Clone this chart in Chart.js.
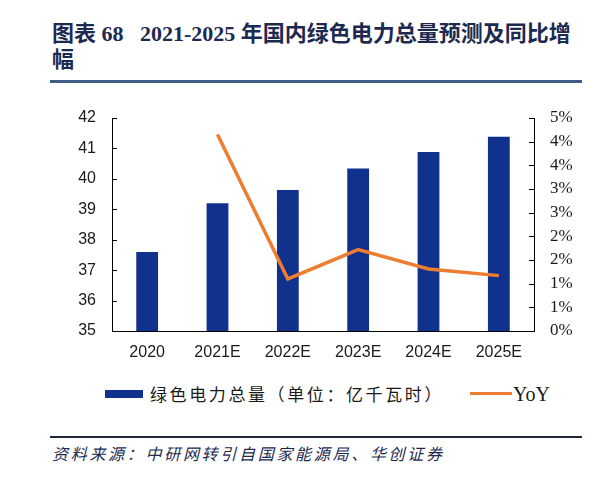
<!DOCTYPE html>
<html>
<head>
<meta charset="utf-8">
<script src="https://cdn.jsdelivr.net/npm/chart.js@4.4.1/dist/chart.umd.min.js"></script>
<style>
  html, body { margin: 0; padding: 0; background: #fff; }
  #page { position: relative; width: 600px; height: 482px; overflow: hidden; background: #fff; }
  .title {
    position: absolute; left: 52px; top: 21px; width: 545px;
    font-family: "Liberation Serif", "Noto Sans CJK SC", serif;
    font-weight: bold; font-size: 22px; line-height: 26px; color: #1d2a50;
    letter-spacing: 0px; white-space: nowrap;
  }
  .rule-top { position: absolute; left: 50px; top: 80px; width: 532px; height: 3px; background: #3d5c86; }
  .rule-bot { position: absolute; left: 50px; top: 436px; width: 532px; height: 2px; background: #1e2a3a; }
  #chartBox { position: absolute; left: 0; top: 90px; width: 600px; height: 280px; }
  .legend { position: absolute; top: 382px; height: 24px; font-size: 17px; color: #1a1a1a; }
  .leg-box { position: absolute; left: 105px; top: 390px; width: 38px; height: 8px; background: #10318c; }
  .leg-text1 { left: 150px; font-family: "Noto Sans CJK SC", sans-serif; letter-spacing: 2.6px; line-height: 24px; }
  .leg-line { position: absolute; left: 470px; top: 392px; width: 42px; height: 3px; background: #ed7d31; }
  .leg-text2 { left: 513px; font-family: "Liberation Serif", serif; font-size: 20px; line-height: 24px; }
  .source {
    position: absolute; left: 52px; top: 441px;
    font-family: "Noto Sans CJK SC", sans-serif; font-style: italic;
    font-size: 16px; letter-spacing: 2.7px; color: #1d2a50; white-space: nowrap;
  }
</style>
</head>
<body>
<div id="page">
  <div class="title">图表 68&nbsp;&nbsp;&nbsp;2021-2025 年国内绿色电力总量预测及同比增<br>幅</div>
  <div class="rule-top"></div>
  <div id="chartBox"><canvas id="chart"></canvas></div>
  <div class="leg-box"></div>
  <div class="legend leg-text1">绿色电力总量（单位：亿千瓦时）</div>
  <div class="leg-line"></div>
  <div class="legend leg-text2">YoY</div>
  <div class="rule-bot"></div>
  <div class="source">资料来源：中研网转引自国家能源局、华创证券</div>
</div>
<script>
const categories = ['2020', '2021E', '2022E', '2023E', '2024E', '2025E'];
const greenPower = [37.6, 39.2, 39.63, 40.34, 40.88, 41.38];   // 亿千瓦时
const yoy = [null, 4.15, 1.1, 1.72, 1.31, 1.17];               // %
const leftTicks = [35, 36, 37, 38, 39, 40, 41, 42];
const rightTickLabels = ['0%', '1%', '1%', '2%', '2%', '3%', '3%', '4%', '4%', '5%'];

// inward tick marks on both value axes
const innerTicks = {
    id: 'innerTicks',
    afterDraw(chart) {
        const ctx = chart.ctx;
        ctx.save();
        ctx.strokeStyle = '#000';
        ctx.lineWidth = 1;
        ['y', 'y1'].forEach(id => {
            const s = chart.scales[id];
            s.ticks.forEach((t, i) => {
                const py = Math.round(s.getPixelForTick(i)) + 0.5;
                ctx.beginPath();
                if (s.position === 'left') {
                    ctx.moveTo(s.right, py);
                    ctx.lineTo(s.right + 5, py);
                } else {
                    ctx.moveTo(s.left, py);
                    ctx.lineTo(s.left - 5, py);
                }
                ctx.stroke();
            });
        });
        ctx.restore();
    }
};

new Chart(document.getElementById('chart'), {
    type: 'bar',
    data: {
        labels: categories,
        datasets: [
            {
                type: 'line',
                label: 'YoY',
                data: yoy,
                yAxisID: 'y1',
                borderColor: '#ed7d31',
                borderWidth: 3.5,
                pointRadius: 0,
                tension: 0,
                order: 0
            },
            {
                label: '绿色电力总量（单位：亿千瓦时）',
                data: greenPower,
                yAxisID: 'y',
                backgroundColor: '#10318c',
                barPercentage: 0.31,
                categoryPercentage: 1,
                order: 1
            }
        ]
    },
    options: {
        responsive: true,
        maintainAspectRatio: false,
        animation: false,
        layout: { padding: { top: 28, left: 0, right: 0, bottom: 0 } },
        plugins: { legend: { display: false }, tooltip: { enabled: false } },
        scales: {
            x: {
                offset: true,
                grid: { display: false, drawTicks: false },
                border: { display: true, color: '#000', width: 1 },
                ticks: { padding: 12, color: '#1a1a1a', font: { family: 'Liberation Sans', size: 16 } },
                afterFit(s) { s.height = 39; }
            },
            y: {
                position: 'left',
                min: leftTicks[0],
                max: leftTicks[leftTicks.length - 1],
                afterBuildTicks(s) { s.ticks = leftTicks.map(v => ({ value: v })); },
                grid: { drawOnChartArea: false, drawTicks: false },
                border: { display: true, color: '#000', width: 1 },
                ticks: { padding: 16, color: '#1a1a1a', font: { family: 'Liberation Sans', size: 16 } },
                afterFit(s) { s.width = 112; }
            },
            y1: {
                position: 'right',
                min: 0,
                max: 4.5,
                afterBuildTicks(s) { s.ticks = rightTickLabels.map((l, i) => ({ value: i * 0.5 })); },
                grid: { drawOnChartArea: false, drawTicks: false },
                border: { display: true, color: '#000', width: 1 },
                ticks: {
                    padding: 16,
                    color: '#1a1a1a',
                    font: { family: 'Liberation Serif', size: 17 },
                    callback: (v, i) => rightTickLabels[i]
                },
                afterFit(s) { s.width = 66; }
            }
        }
    },
    plugins: [innerTicks]
});
</script>
</body>
</html>
